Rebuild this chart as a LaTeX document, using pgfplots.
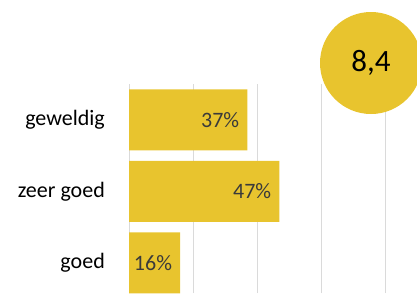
\documentclass[border=0pt]{standalone}
\usepackage{pgfplots}
\pgfplotsset{compat=1.18}
\usepackage{fontspec}
\setmainfont{Carlito}
\definecolor{goldbar}{RGB}{232,196,46}
\definecolor{gridgray}{RGB}{218,218,218}
\definecolor{valtext}{RGB}{58,58,58}
\begin{document}
\begin{tikzpicture}
\useasboundingbox (0pt,0pt) rectangle (417pt,293pt);
\clip (0pt,0pt) rectangle (417pt,293pt);
\begin{axis}[
  at={(129pt,0pt)}, anchor=south west,
  scale only axis,
  width=288pt, height=209pt,
  xbar, bar width=61pt,
  xmin=0, xmax=90,
  ymin=-0.42, ymax=2.5,
  ytick={0,1,2},
  yticklabels={goed,zeer goed,geweldig},
  xtick={0,20,40,60,80},
  xticklabels={},
  major tick length=0pt,
  xmajorgrids,
  grid style={gridgray, line width=0.9pt},
  axis line style={draw=none},
  /pgf/number format/assume math mode=true,
  y tick label style={font=\fontsize{22}{26}\selectfont, text=black, inner sep=0pt, xshift=-24pt},
  nodes near coords={\pgfmathprintnumber{\pgfplotspointmeta}\%},
  nodes near coords style={anchor=east, xshift=-8pt, text=valtext, font=\fontsize{22}{26}\selectfont, inner sep=0pt},
  point meta=x,
]
\addplot[fill=goldbar, draw=none] coordinates {(16,0) (47,1) (37,2)};
\end{axis}
\fill[goldbar] (371pt,230pt) circle (51pt);
\node[font=\fontsize{31}{36}\selectfont, text=black] at (371pt,230pt) {8,4};
\end{tikzpicture}
\end{document}
